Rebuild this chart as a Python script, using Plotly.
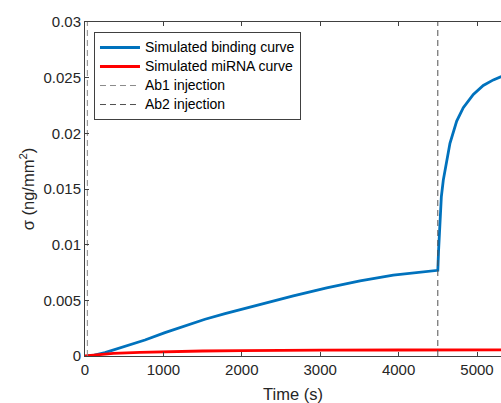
import plotly.graph_objects as go

# Simulated binding curve (blue)
t_bind = [30, 120, 255, 510, 765, 1020, 1276, 1531, 1786, 2041, 2296, 2657, 3083, 3508, 3932, 4200, 4500,
          4510, 4528, 4545, 4570, 4613, 4655, 4741, 4825, 4953, 5080, 5208, 5310]
s_bind = [0.0, 0.00008, 0.0003, 0.00084, 0.00144, 0.0021, 0.0027, 0.0033, 0.0038, 0.00428, 0.00475,
          0.0054, 0.00612, 0.00675, 0.00726, 0.00748, 0.0077,
          0.0095, 0.0125, 0.0143, 0.0158, 0.0176, 0.0191, 0.0211, 0.0223, 0.0235, 0.0243, 0.0248, 0.0251]

# Simulated miRNA curve (red)
t_mir = [0, 150, 361, 700, 1000, 1500, 2000, 2500, 3000, 4000, 4500, 5310]
s_mir = [0.0, 0.00012, 0.00024, 0.00033, 0.00039, 0.00045, 0.00049, 0.00052, 0.00053, 0.00054, 0.00054, 0.00055]

# Injection times
ab1_t = 30
ab2_t = 4500
y_lim = [0, 0.03]
x_lim = [0, 5306]

x_ticks = [0, 1000, 2000, 3000, 4000, 5000]
y_ticks = [0, 0.005, 0.01, 0.015, 0.02, 0.025, 0.03]
y_ticklabels = ["0", "0.005", "0.01", "0.015", "0.02", "0.025", "0.03"]

legend_names = ["Simulated binding curve", "Simulated miRNA curve", "Ab1 injection", "Ab2 injection"]

font = "Liberation Sans, Arial, sans-serif"
axc = "#404040"


def lg(name):
    return '<span style="font-size:14px">' + name + "</span>"


fig = go.Figure()
fig.add_trace(go.Scatter(x=t_bind, y=s_bind, mode="lines", name=lg(legend_names[0]),
                         line=dict(color="#0072BD", width=2.8)))
fig.add_trace(go.Scatter(x=t_mir, y=s_mir, mode="lines", name=lg(legend_names[1]),
                         line=dict(color="#FF0000", width=2.8)))
fig.add_trace(go.Scatter(x=[ab1_t, ab1_t], y=y_lim, mode="lines", name=lg(legend_names[2]),
                         line=dict(color="#8a8a8a", width=1, dash="6px,4px")))
fig.add_trace(go.Scatter(x=[ab2_t, ab2_t], y=y_lim, mode="lines", name=lg(legend_names[3]),
                         line=dict(color="#505050", width=1, dash="6px,4px")))
fig.add_trace(go.Scatter(x=[0], y=[None], xaxis="x2", showlegend=False, hoverinfo="skip"))

fig.update_layout(
    width=501, height=403,
    margin=dict(l=85, r=0, t=22, b=47),
    paper_bgcolor="white", plot_bgcolor="white",
    font=dict(family=font, color="#262626"),
    showlegend=True,
    legend=dict(x=0.0216, y=0.97, xanchor="left", yanchor="top",
                bgcolor="white", bordercolor=axc, borderwidth=1,
                font=dict(size=12, color="#000000"),
                itemwidth=40, tracegroupgap=0),
    xaxis=dict(range=x_lim, tickvals=x_ticks, ticks="inside", ticklen=4, tickcolor=axc,
               showline=True, linecolor=axc, linewidth=1, showgrid=False, zeroline=False,
               tickfont=dict(size=15, color="#262626"),
               title=dict(text="Time (s)", font=dict(size=16.5, color="#262626"), standoff=12)),
    xaxis2=dict(overlaying="x", side="top", matches="x", range=x_lim, tickvals=x_ticks,
                ticks="inside", ticklen=4, tickcolor=axc, showline=True, linecolor=axc,
                linewidth=1, showgrid=False, zeroline=False, showticklabels=False),
    yaxis=dict(range=y_lim, tickvals=y_ticks, ticktext=y_ticklabels, ticks="inside", ticklen=4,
               tickcolor=axc, showline=True, linecolor=axc, linewidth=1, showgrid=False,
               zeroline=False, tickfont=dict(size=15, color="#262626"),
               title=dict(text="σ (ng/mm<sup>2</sup>)", font=dict(size=16.5, color="#262626"),
                          standoff=4)),
)

fig.write_html(
    "out.html",
    config={"displayModeBar": False},
    post_script="document.body.style.margin='0';document.body.style.overflow='hidden';"
                "document.documentElement.style.overflow='hidden';",
)
